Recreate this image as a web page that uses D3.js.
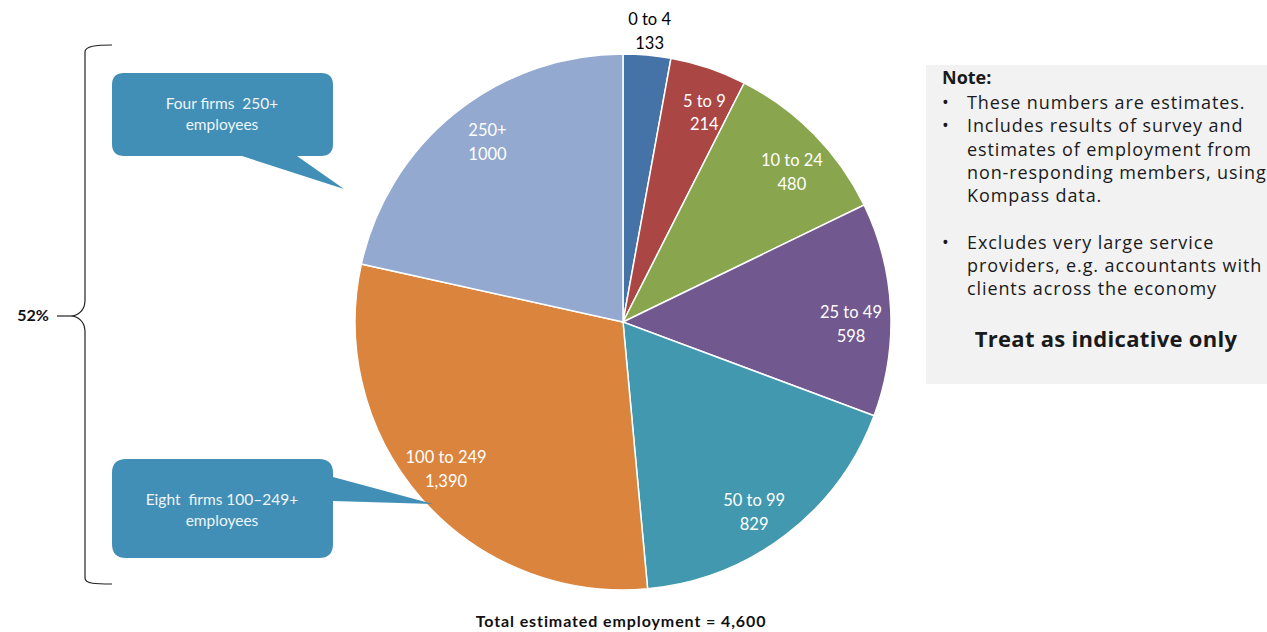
<!DOCTYPE html>
<meta charset="utf-8">
<style>
body { margin: 0; background: #fff; }
.lbl { font-family: Lato, "Open Sans", sans-serif; font-size: 16.5px; }
.note { font-family: "Open Sans", "DejaVu Sans", sans-serif; font-size: 18px; letter-spacing: 0.9px; fill: #1a1a1a; }
</style>
<body>
<div id="chart"></div>
<script src="https://d3js.org/d3.v7.min.js"></script>
<script>
// size bands and employment
var bands = ["0 to 4", "5 to 9", "10 to 24", "25 to 49", "50 to 99", "100 to 249", "250+"];
var employment = [133, 214, 480, 598, 829, 1390, 1000];
var valueText = ["133", "214", "480", "598", "829", "1,390", "1000"];
var colors = ["#4572a7", "#aa4643", "#89a54e", "#71588f", "#4198af", "#db843d", "#93a9cf"];

var noteLines = [
  {b: true, t: "These numbers are estimates."},
  {b: true, t: "Includes results of survey and"},
  {b: false, t: "estimates of employment from"},
  {b: false, t: "non-responding members, using"},
  {b: false, t: "Kompass data."},
  {b: false, t: ""},
  {b: true, t: "Excludes very large service"},
  {b: false, t: "providers, e.g. accountants with"},
  {b: false, t: "clients across the economy"}
];

var width = 1267, height = 632;
var cx = 623, cy = 322, r = 268;

var svg = d3.select("#chart").append("svg")
  .attr("width", width)
  .attr("height", height);

var data = bands.map(function(b, i) {
  return {band: b, value: employment[i], text: valueText[i], color: colors[i]};
});

var pie = d3.pie().sort(null).value(function(d) { return d.value; });
var arc = d3.arc().innerRadius(0).outerRadius(r);
var labelArc = d3.arc().innerRadius(228).outerRadius(228);
var outerArc = d3.arc().innerRadius(296).outerRadius(296);
var nudge = 0.04; // labels sit a little clockwise of the slice middle

var g = svg.append("g").attr("transform", "translate(" + cx + "," + cy + ")");
var arcs = pie(data);

g.selectAll("path.slice")
  .data(arcs)
  .enter().append("path")
  .attr("class", "slice")
  .attr("d", arc)
  .attr("fill", function(d) { return d.data.color; })
  .attr("stroke", "#fff")
  .attr("stroke-width", 1.5);

var lab = g.selectAll("text.lbl")
  .data(arcs)
  .enter().append("text")
  .attr("class", "lbl")
  .attr("text-anchor", "middle")
  .attr("fill", function(d, i) { return i === 0 ? "#000" : "#fff"; })
  .attr("transform", function(d, i) {
    var c = i === 0 ? outerArc.centroid(d)
      : labelArc.centroid({startAngle: d.startAngle + nudge, endAngle: d.endAngle + nudge});
    return "translate(" + c[0] + "," + c[1] + ")";
  });
lab.append("tspan").attr("x", 0).attr("dy", "-0.15em").text(function(d) { return d.data.band; });
lab.append("tspan").attr("x", 0).attr("dy", "1.45em").text(function(d) { return d.data.text; });

// bottom caption
svg.append("text")
  .attr("x", 621).attr("y", 627)
  .attr("text-anchor", "middle")
  .attr("font-family", "Lato, sans-serif")
  .attr("font-weight", "bold")
  .attr("font-size", "16px")
  .attr("letter-spacing", "0.9px")
  .attr("fill", "#111")
  .text("Total estimated employment = 4,600");

// brace on the left
svg.append("path")
  .attr("d", "M112,45 C96,45 85,46 85,52 L85,300 C85,310 80,314 73,316 C80,318 85,322 85,332 L85,578 C85,584 96,584 112,584")
  .attr("fill", "none")
  .attr("stroke", "#222")
  .attr("stroke-width", 1.2);
svg.append("line")
  .attr("x1", 57).attr("x2", 74).attr("y1", 316).attr("y2", 316)
  .attr("stroke", "#222").attr("stroke-width", 1.2);
svg.append("text")
  .attr("x", 33).attr("y", 321)
  .attr("text-anchor", "middle")
  .attr("font-family", "Lato, sans-serif")
  .attr("font-weight", "bold")
  .attr("font-size", "16px")
  .attr("fill", "#111")
  .text("52%");

// callouts
var calloutFill = "#418fb6";
svg.append("path")
  .attr("d", "M124,73 L321,73 Q333,73 333,85 L333,144 Q333,156 321,156 L297,156 L344,189 L242,156 L124,156 Q112,156 112,144 L112,85 Q112,73 124,73 Z")
  .attr("fill", calloutFill);
svg.append("path")
  .attr("d", "M126,459 L319,459 Q333,459 333,473 L333,477 L433,504 L333,501 L333,544 Q333,558 319,558 L126,558 Q112,558 112,544 L112,473 Q112,459 126,459 Z")
  .attr("fill", calloutFill);

var callTxt = [
  {x: 222, y: 109, lines: ["Four firms  250+", "employees"]},
  {x: 222, y: 505, lines: ["Eight  firms 100\u2013249+", "employees"]}
];
callTxt.forEach(function(c) {
  var t = svg.append("text")
    .attr("x", c.x).attr("y", c.y)
    .attr("text-anchor", "middle")
    .attr("font-family", "Lato, sans-serif")
    .attr("font-size", "15.5px")
    .style("white-space", "pre")
    .attr("fill", "#eef4f8");
  c.lines.forEach(function(l, i) {
    t.append("tspan").attr("x", c.x).attr("dy", i === 0 ? 0 : 21).text(l);
  });
});

// note box
svg.append("rect")
  .attr("x", 926).attr("y", 65)
  .attr("width", 341).attr("height", 319)
  .attr("fill", "#f2f2f2");
svg.append("text")
  .attr("class", "note")
  .attr("x", 942).attr("y", 84)
  .style("font-weight", "bold")
  .style("letter-spacing", "0px")
  .text("Note:");
noteLines.forEach(function(l, i) {
  var y = 109 + i * 23.3;
  if (l.b) {
    svg.append("text").attr("class", "note").attr("x", 942).attr("y", y).text("\u2022");
  }
  svg.append("text").attr("class", "note").attr("x", 967).attr("y", y).text(l.t);
});
svg.append("text")
  .attr("class", "note")
  .attr("x", 1106).attr("y", 347)
  .attr("text-anchor", "middle")
  .style("font-weight", "bold")
  .style("font-size", "22px")
  .style("letter-spacing", "0.3px")
  .text("Treat as indicative only");
</script>
</body>
